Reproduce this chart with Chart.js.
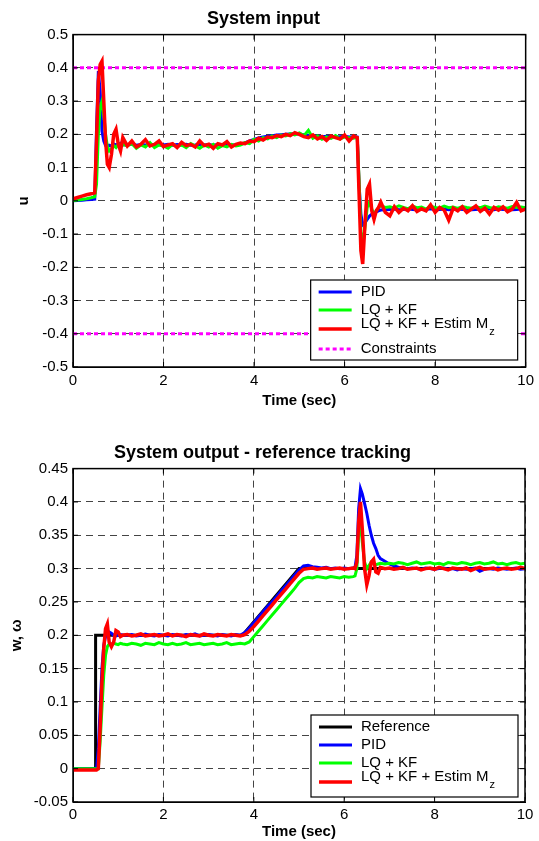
<!DOCTYPE html>
<html>
<head>
<meta charset="utf-8">
<script src="https://cdn.jsdelivr.net/npm/chart.js@4/dist/chart.umd.min.js"></script>
<style>
  html, body { margin: 0; padding: 0; background: #fff; overflow: hidden; }
  .box { position: absolute; left: 0; width: 539px; }
</style>
</head>
<body>
<div class="box" style="top:0;height:420px"><canvas id="inputChart"></canvas></div>
<div class="box" style="top:420px;height:421px"><canvas id="outputChart"></canvas></div>
<script>
/* time samples shared by the simulated series (sec) */
const t = [
  0, 0.1, 0.2, 0.3, 0.4, 0.48, 0.52, 0.56, 0.6, 0.64, 0.68, 0.72, 0.76, 0.8, 0.85, 0.9, 0.95, 1.0, 1.05, 1.1,
  1.2, 1.3, 1.4, 1.5, 1.6, 1.7, 1.8, 1.9, 2.0, 2.1,
  2.2, 2.3, 2.4, 2.5, 2.6, 2.7, 2.8, 2.9, 3.0, 3.1,
  3.2, 3.3, 3.4, 3.5, 3.6, 3.7, 3.8, 3.9, 4.0, 4.1,
  4.2, 4.3, 4.4, 4.5, 4.6, 4.7, 4.8, 4.9, 5.0, 5.1,
  5.2, 5.3, 5.4, 5.5, 5.6, 5.7, 5.8, 5.9, 6.0, 6.1, 6.2,
  6.24, 6.28, 6.32, 6.36, 6.4, 6.45, 6.5, 6.55, 6.6, 6.65, 6.7, 6.75, 6.8, 6.9,
  7.0, 7.1, 7.2, 7.3, 7.4, 7.5, 7.6, 7.7, 7.8, 7.9, 8.0, 8.1, 8.2, 8.3, 8.4, 8.5,
  8.6, 8.7, 8.8, 8.9, 9.0, 9.1, 9.2, 9.3, 9.4, 9.5, 9.6, 9.7, 9.8, 9.9, 10.0
];

/* System input u */
const uPid = [
  0, 0.001, 0.002, 0.003, 0.004, 0.005, 0.22, 0.39, 0.33, 0.21, 0.18, 0.166, 0.162, 0.167, 0.165, 0.171, 0.168, 0.17, 0.173, 0.168,
  0.169, 0.171, 0.167, 0.169, 0.168, 0.17, 0.167, 0.169, 0.168, 0.17,
  0.167, 0.169, 0.168, 0.17, 0.167, 0.168, 0.17, 0.168, 0.169, 0.167,
  0.169, 0.168, 0.17, 0.168, 0.169, 0.171, 0.174, 0.18, 0.185, 0.189,
  0.192, 0.194, 0.196, 0.198, 0.199, 0.2, 0.201, 0.202, 0.201, 0.199,
  0.197, 0.195, 0.194, 0.193, 0.194, 0.193, 0.192, 0.193, 0.194, 0.192, 0.193,
  0.193, 0.192, 0.05, -0.04, -0.072, -0.066, -0.056, -0.046, -0.04, -0.036, -0.033, -0.03, -0.028, -0.027,
  -0.026, -0.025, -0.027, -0.026, -0.024, -0.026, -0.027, -0.025, -0.026, -0.024, -0.027, -0.026, -0.025, -0.027, -0.026, -0.024,
  -0.026, -0.025, -0.027, -0.026, -0.025, -0.026, -0.024, -0.027, -0.025, -0.026, -0.025, -0.027, -0.026, -0.025, -0.026
];
const uLqKf = [
  0, 0.002, 0.004, 0.006, 0.009, 0.012, 0.05, 0.2, 0.28, 0.3, 0.26, 0.2, 0.162, 0.15, 0.156, 0.166, 0.16, 0.17, 0.164, 0.17,
  0.165, 0.172, 0.158, 0.168, 0.162, 0.175, 0.16, 0.168, 0.165, 0.158,
  0.17, 0.163, 0.168, 0.16, 0.172, 0.165, 0.158, 0.168, 0.162, 0.17,
  0.158, 0.166, 0.162, 0.17, 0.165, 0.168, 0.175, 0.172, 0.185, 0.18,
  0.19, 0.186, 0.195, 0.19, 0.198, 0.195, 0.202, 0.198, 0.204, 0.196,
  0.212, 0.188, 0.195, 0.185, 0.192, 0.188, 0.196, 0.186, 0.192, 0.19, 0.188,
  0.19, 0.189, 0.06, -0.09, -0.138, -0.08, -0.02, -0.004, -0.025, -0.04, -0.03, -0.02, -0.015, -0.02,
  -0.018, -0.022, -0.015, -0.02, -0.024, -0.016, -0.021, -0.019, -0.025, -0.017, -0.02, -0.022, -0.016, -0.021, -0.019, -0.023,
  -0.017, -0.02, -0.022, -0.018, -0.021, -0.016, -0.02, -0.023, -0.018, -0.02, -0.022, -0.017, -0.02, -0.019, -0.021
];
const uEstim = [
  0.006, 0.01, 0.014, 0.018, 0.021, 0.024, 0.18, 0.36, 0.41, 0.42, 0.3, 0.18, 0.11, 0.1, 0.14, 0.2, 0.215, 0.17, 0.15, 0.19,
  0.165, 0.18, 0.162, 0.17, 0.184, 0.165, 0.17, 0.18, 0.163, 0.168,
  0.172, 0.16, 0.176, 0.166, 0.17, 0.162, 0.18, 0.166, 0.17, 0.158,
  0.172, 0.168, 0.178, 0.162, 0.17, 0.174, 0.172, 0.18, 0.178, 0.188,
  0.183, 0.192, 0.19, 0.196, 0.193, 0.2, 0.196, 0.205, 0.2, 0.193,
  0.19, 0.198, 0.186, 0.193, 0.182, 0.195, 0.19, 0.186, 0.198, 0.18, 0.195,
  0.192, 0.19, 0.02, -0.15, -0.19, -0.07, 0.035, 0.05, -0.03, -0.056, -0.03, -0.02, -0.004, -0.035,
  -0.045, -0.018, -0.035, -0.022, -0.03, -0.015, -0.032, -0.024, -0.03, -0.012, -0.035, -0.02, -0.028, -0.058, -0.022, -0.03,
  -0.018, -0.035, -0.025, -0.015, -0.032, -0.022, -0.04, -0.02, -0.028, -0.018, -0.033, -0.025, -0.005, -0.03, -0.025
];
const conT = [0, 10];
const conUpper = [0.4, 0.4];
const conLower = [-0.4, -0.4];

/* System output w */
const refT = [0, 0.49, 0.5, 3.75, 5.0, 10];
const refW = [0, 0, 0.2, 0.2, 0.3, 0.3];
const wPid = [
  0, 0, 0, 0, 0, 0, 0, 0.03, 0.09, 0.15, 0.185, 0.198, 0.203, 0.205, 0.203, 0.2, 0.199, 0.2, 0.201, 0.2,
  0.2, 0.201, 0.199, 0.2, 0.202, 0.2, 0.199, 0.201, 0.2, 0.199,
  0.201, 0.2, 0.199, 0.201, 0.2, 0.202, 0.199, 0.2, 0.201, 0.2,
  0.199, 0.201, 0.2, 0.199, 0.201, 0.2, 0.204, 0.211, 0.219, 0.227,
  0.235, 0.243, 0.25, 0.258, 0.266, 0.274, 0.282, 0.29, 0.298, 0.304,
  0.305, 0.303, 0.302, 0.301, 0.302, 0.3, 0.301, 0.3, 0.301, 0.3, 0.301,
  0.302, 0.32, 0.39, 0.42, 0.412, 0.398, 0.383, 0.365, 0.35, 0.338, 0.33, 0.32, 0.315, 0.311,
  0.307, 0.304, 0.302, 0.301, 0.3, 0.301, 0.3, 0.299, 0.301, 0.3, 0.299, 0.3, 0.301, 0.299, 0.3, 0.298,
  0.3, 0.299, 0.3, 0.301, 0.296, 0.299, 0.3, 0.299, 0.301, 0.3, 0.299, 0.3, 0.301, 0.299, 0.3
];
const wLqKf = [
  0, 0, 0, 0, 0, 0, 0, 0, 0.04, 0.09, 0.14, 0.17, 0.183, 0.187, 0.186, 0.188, 0.187, 0.186, 0.188, 0.187,
  0.186, 0.188, 0.187, 0.185, 0.188, 0.187, 0.186, 0.189, 0.187, 0.186,
  0.188, 0.186, 0.187, 0.189, 0.186, 0.187, 0.188, 0.186, 0.187, 0.188,
  0.186, 0.187, 0.189, 0.186, 0.187, 0.188, 0.187, 0.19, 0.198, 0.206,
  0.214, 0.222, 0.23, 0.238, 0.246, 0.254, 0.262, 0.27, 0.279, 0.285,
  0.287, 0.286, 0.288, 0.287, 0.286, 0.288, 0.287, 0.286, 0.288, 0.287, 0.288,
  0.289, 0.3, 0.35, 0.37, 0.34, 0.31, 0.3, 0.305, 0.31, 0.308, 0.306, 0.307, 0.308, 0.307,
  0.308, 0.307, 0.309, 0.308, 0.306, 0.308, 0.31, 0.307, 0.308, 0.309, 0.307, 0.308, 0.306, 0.309, 0.308, 0.307,
  0.309, 0.308, 0.306, 0.308, 0.309, 0.307, 0.308, 0.31, 0.307, 0.308, 0.306, 0.308, 0.309, 0.307, 0.308
];
const wEstim = [
  -0.002, -0.002, -0.002, -0.002, -0.002, -0.002, -0.002, 0, 0.06, 0.13, 0.18, 0.21, 0.217, 0.19, 0.183, 0.19, 0.207, 0.205, 0.198, 0.2,
  0.201, 0.199, 0.2, 0.202, 0.199, 0.2, 0.201, 0.199, 0.2, 0.202,
  0.199, 0.201, 0.2, 0.198, 0.201, 0.2, 0.199, 0.202, 0.2, 0.199,
  0.201, 0.2, 0.199, 0.201, 0.2, 0.199, 0.201, 0.206, 0.213, 0.221,
  0.229, 0.237, 0.245, 0.253, 0.261, 0.269, 0.277, 0.285, 0.293, 0.299,
  0.3, 0.301, 0.299, 0.3, 0.301, 0.299, 0.3, 0.301, 0.299, 0.3, 0.301,
  0.3, 0.31, 0.37, 0.4, 0.36, 0.3, 0.276, 0.29, 0.31, 0.314, 0.295, 0.293, 0.302, 0.3,
  0.301, 0.299, 0.3, 0.302, 0.299, 0.3, 0.301, 0.298, 0.3, 0.301, 0.299, 0.302, 0.3, 0.298, 0.301, 0.3,
  0.299, 0.301, 0.297, 0.3, 0.302, 0.299, 0.3, 0.301, 0.298, 0.3, 0.301, 0.299, 0.3, 0.302, 0.3
];

const FONT = "'Liberation Sans', Arial, Helvetica, sans-serif";
Chart.defaults.font.family = FONT;
Chart.defaults.color = '#000';

function pts(xs, ys) {
    return xs.map((x, i) => ({ x: x, y: ys[i] }));
}

function line(label, xs, ys, color, width, order, extra) {
    return Object.assign({
        label: label,
        data: pts(xs, ys),
        borderColor: color,
        backgroundColor: color,
        borderWidth: width,
        pointRadius: 0,
        fill: false,
        tension: 0,
        order: order
    }, extra || {});
}

const tickLabel = v => String(Number(v.toFixed(2)));

function xScale(height, tickPad, titlePad) {
    return {
        type: 'linear', min: 0, max: 10,
        ticks: { stepSize: 2, padding: tickPad, font: { size: 15 }, maxRotation: 0, callback: tickLabel },
        grid: { color: '#444', lineWidth: 1, drawTicks: false },
        border: { color: '#000', width: 1, dash: [7, 5] },
        title: { display: true, text: 'Time (sec)', font: { size: 15, weight: 'bold' }, padding: { top: 0, bottom: titlePad } },
        afterFit: s => { s.height = height; }
    };
}

function yScale(min, max, step, title, titlePad) {
    return {
        min: min, max: max,
        ticks: { stepSize: step, padding: 5, font: { size: 15 }, callback: tickLabel },
        grid: { color: '#444', lineWidth: 1, drawTicks: false },
        border: { color: '#000', width: 1, dash: [7, 5] },
        title: { display: true, text: title, font: { size: 15, weight: 'bold' }, padding: { top: titlePad, bottom: 0 } },
        afterFit: s => { s.width = 73; }
    };
}

/* box round the axes with small inward ticks, like the original figure */
const axesBox = {
    id: 'axesBox',
    afterDatasetsDraw(chart) {
        const { ctx, chartArea: a, scales: { x, y } } = chart;
        ctx.save();
        ctx.strokeStyle = '#000';
        ctx.lineWidth = 1;
        ctx.setLineDash([]);
        ctx.beginPath();
        x.ticks.forEach(tk => {
            const px = x.getPixelForValue(tk.value);
            ctx.moveTo(px, a.top); ctx.lineTo(px, a.top + 5);
            ctx.moveTo(px, a.bottom); ctx.lineTo(px, a.bottom - 5);
        });
        y.ticks.forEach(tk => {
            const py = y.getPixelForValue(tk.value);
            ctx.moveTo(a.left, py); ctx.lineTo(a.left + 5, py);
            ctx.moveTo(a.right, py); ctx.lineTo(a.right - 5, py);
        });
        ctx.stroke();
        ctx.lineWidth = 1.5;
        ctx.strokeRect(a.left, a.top, a.right - a.left, a.bottom - a.top);
        ctx.restore();
    }
};

/* boxed legend inside the plot, bottom right */
const boxLegend = {
    id: 'boxLegend',
    afterDatasetsDraw(chart, args, opts) {
        const { ctx, chartArea: a } = chart;
        const x0 = a.right - opts.right - opts.width;
        const y0 = a.bottom - opts.bottom - opts.height;
        ctx.save();
        ctx.fillStyle = '#fff';
        ctx.fillRect(x0, y0, opts.width, opts.height);
        ctx.strokeStyle = '#000';
        ctx.lineWidth = 1.2;
        ctx.strokeRect(x0, y0, opts.width, opts.height);
        const items = chart.data.datasets.filter(ds => ds.inLegend !== false);
        items.forEach((ds, i) => {
            const ry = y0 + opts.rows[i];
            const ly = ds.labelSub ? ry + 5 : ry;
            ctx.strokeStyle = ds.borderColor;
            ctx.lineWidth = ds.borderWidth;
            ctx.setLineDash(ds.borderDash || []);
            ctx.beginPath();
            ctx.moveTo(x0 + 8, ly);
            ctx.lineTo(x0 + 41, ly);
            ctx.stroke();
            ctx.fillStyle = '#000';
            ctx.font = '15px ' + FONT;
            ctx.textBaseline = 'middle';
            ctx.textAlign = 'left';
            ctx.fillText(ds.label, x0 + 50, ry);
            if (ds.labelSub) {
                const w = ctx.measureText(ds.label).width;
                ctx.font = '11px ' + FONT;
                ctx.fillText(ds.labelSub, x0 + 51 + w, ry + 8);
            }
        });
        ctx.restore();
    }
};

/* SYSTEM INPUT */
new Chart(document.getElementById('inputChart'), {
    type: 'line',
    data: {
        datasets: [
            line('PID', t, uPid, '#0000ff', 3, 3),
            line('LQ + KF', t, uLqKf, '#00ff00', 3, 2),
            line('LQ + KF + Estim M', t, uEstim, '#ff0000', 3.5, 1, { labelSub: 'z' }),
            line('Constraints', conT, conUpper, '#ff00ff', 3, 4, { borderDash: [4, 3] }),
            line('Constraints', conT, conLower, '#ff00ff', 3, 4, { borderDash: [4, 3], inLegend: false })
        ]
    },
    options: {
        responsive: true,
        maintainAspectRatio: false,
        animation: false,
        events: [],
        layout: { padding: { top: 0, right: 12, left: 0, bottom: 0 } },
        scales: {
            x: xScale(53, 5, 10),
            y: yScale(-0.5, 0.5, 0.1, 'u', 15)
        },
        plugins: {
            legend: { display: false },
            tooltip: { enabled: false },
            title: { display: true, text: 'System input', font: { size: 18, weight: 'bold' }, padding: { top: 8, bottom: 5 } },
            boxLegend: { width: 207, height: 80, right: 8, bottom: 7, rows: [12, 30, 44, 69] }
        }
    },
    plugins: [axesBox, boxLegend]
});

/* SYSTEM OUTPUT */
new Chart(document.getElementById('outputChart'), {
    type: 'line',
    data: {
        datasets: [
            line('Reference', refT, refW, '#000000', 3, 4),
            line('PID', t, wPid, '#0000ff', 3, 3),
            line('LQ + KF', t, wLqKf, '#00ff00', 3, 2),
            line('LQ + KF + Estim M', t, wEstim, '#ff0000', 3.5, 1, { labelSub: 'z' })
        ]
    },
    options: {
        responsive: true,
        maintainAspectRatio: false,
        animation: false,
        events: [],
        layout: { padding: { top: 0, right: 14, left: 0, bottom: 0 } },
        scales: {
            x: xScale(39, 4, 0),
            y: yScale(-0.05, 0.45, 0.05, 'w, ω', 8)
        },
        plugins: {
            legend: { display: false },
            tooltip: { enabled: false },
            title: { display: true, text: 'System output - reference tracking', font: { size: 18, weight: 'bold' }, padding: { top: 22, bottom: 5 } },
            boxLegend: { width: 207, height: 82, right: 7, bottom: 5, rows: [12, 30, 48, 62] }
        }
    },
    plugins: [axesBox, boxLegend]
});
</script>
</body>
</html>
